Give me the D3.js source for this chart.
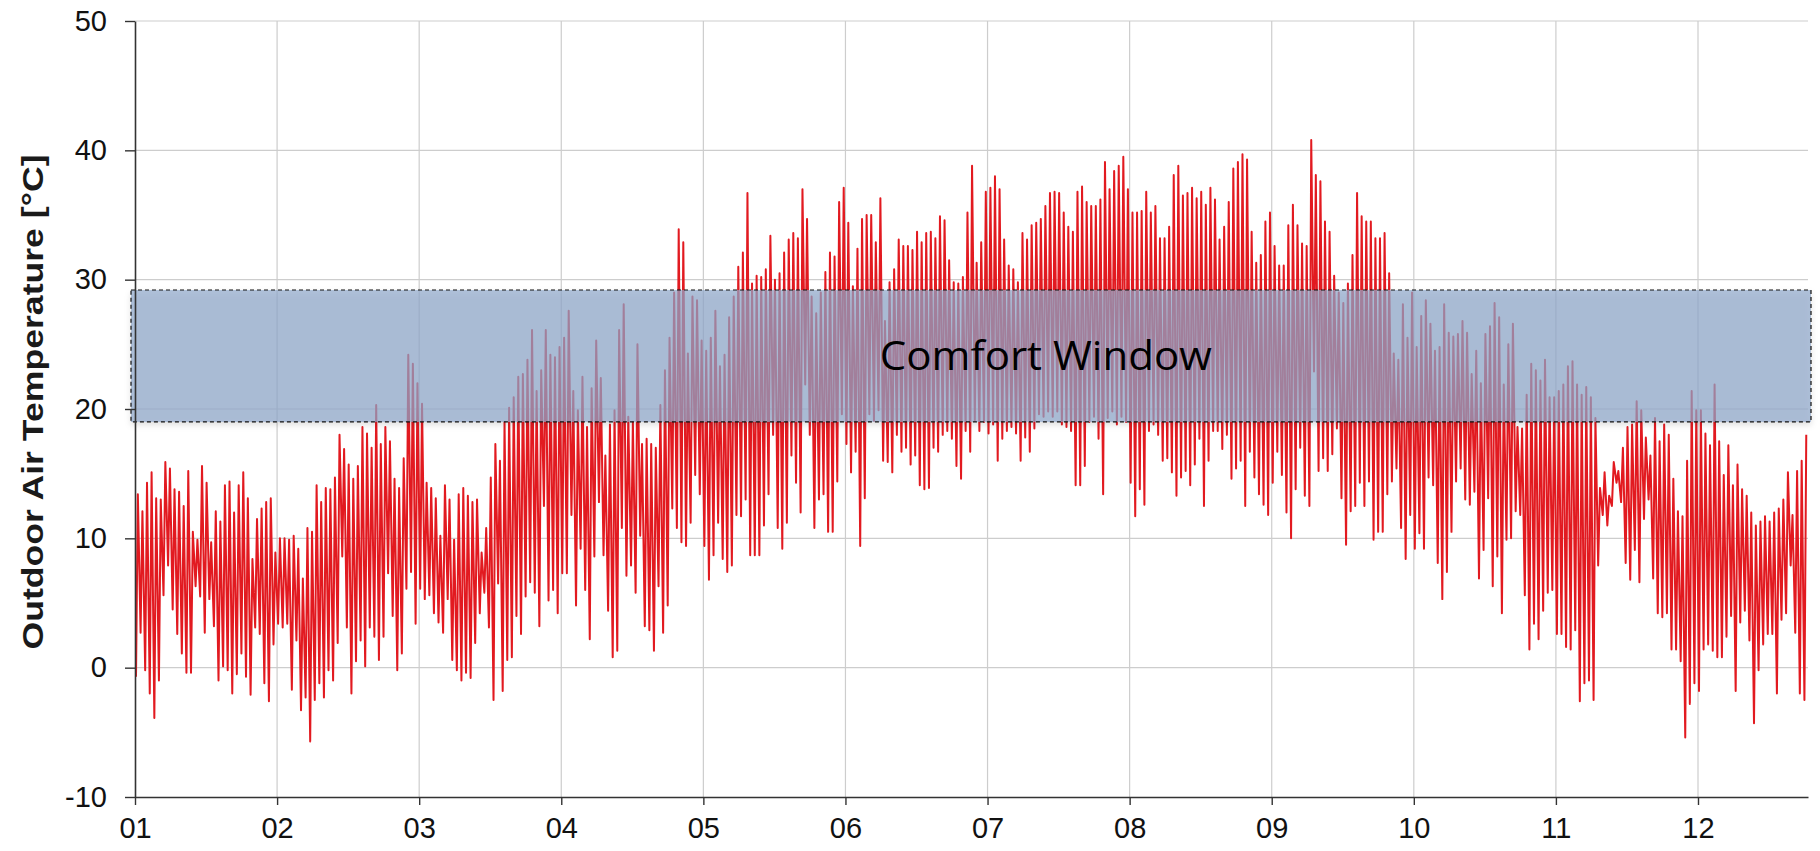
<!DOCTYPE html>
<html>
<head>
<meta charset="utf-8">
<script src="https://cdn.jsdelivr.net/npm/d3@7/dist/d3.min.js"></script>
<style>
  body { margin: 0; background: #fff; }
  svg { display: block; }
</style>
</head>
<body>
<svg id="chart" width="1820" height="851"></svg>
<script>
// month ticks (one every 31 days on the day axis)
var monthLabels = ["01","02","03","04","05","06","07","08","09","10","11","12"];
var monthTickDays = [0,31,62,93,124,155,186,217,248,279,310,341];
var yTicks = [-10,0,10,20,30,40,50];

// comfort window bounds (degC)
var comfortLow = 19.0;
var comfortHigh = 29.2;
var comfortLabel = "Comfort Window";

// daily maximum outdoor temperature (day 0..364)
var dailyMax = [
 13.4,12.1,14.3,15.1,13.1,13.0,15.9,15.4,13.8,13.6,12.5,15.2,10.5,9.9,15.6,14.3,9.7,12.1,11.3,14.1,14.4,12.0,14.1,15.1,13.1,8.4,11.5,12.3,12.8,13.1,8.9,10.0,10.0,
 9.9,10.2,9.2,6.9,10.8,10.5,14.1,12.8,13.9,13.8,14.7,18.0,16.9,15.7,14.6,15.6,18.6,18.1,17.0,20.3,17.3,18.6,17.5,14.6,13.9,16.2,24.2,23.5,22.0,20.4,14.3,13.9,13.1,10.2,14.1,
 13.0,9.9,13.4,13.9,13.3,12.8,13.0,8.9,10.8,14.7,17.3,16.0,19.0,20.1,20.9,22.5,22.7,23.8,26.1,21.4,23.0,26.1,24.2,24.0,24.8,25.5,27.6,21.4,19.9,22.5,18.6,21.6,25.3,22.4,
 16.4,18.8,19.9,26.1,28.1,19.4,19.0,25.0,17.3,17.7,17.3,17.0,20.3,23.0,25.5,29.0,33.9,32.9,24.3,28.7,28.4,25.3,24.5,25.5,27.6,23.3,24.2,27.1,28.7,31.0,32.1,36.7,29.7,30.3,
 30.2,30.8,33.4,30.0,30.5,32.1,33.1,33.6,33.2,37.0,34.7,28.7,27.4,29.0,30.6,32.1,31.8,36.0,37.1,34.4,29.5,32.4,34.7,35.0,35.0,32.9,36.3,26.8,29.8,30.8,33.1,32.6,32.6,32.3,
 33.7,32.9,33.6,33.7,33.2,34.9,34.6,31.5,29.8,29.7,30.2,35.2,38.8,31.3,32.9,36.8,37.1,38.0,37.0,33.1,31.1,30.8,29.8,33.6,33.1,34.2,34.4,34.7,35.7,36.7,36.8,36.7,35.2,
 34.1,33.7,36.8,37.2,36.0,35.7,35.7,36.2,39.1,37.0,38.4,38.8,39.5,37.0,35.2,35.2,35.3,36.8,35.2,35.7,33.2,33.2,34.1,38.1,38.8,36.5,36.7,37.1,36.3,36.8,35.8,37.1,36.2,33.1,
 34.1,36.0,38.6,39.1,39.7,39.3,33.7,31.3,31.9,34.5,35.2,32.6,31.1,31.1,34.2,35.8,34.2,32.8,32.6,40.8,38.1,37.6,34.5,33.7,30.3,29.0,28.2,29.7,31.9,36.7,34.9,34.5,34.5,33.2,
 33.2,33.6,30.5,24.3,23.8,28.1,25.5,29.0,24.8,27.2,28.4,26.6,24.5,24.8,28.1,25.9,25.6,25.8,26.8,25.9,22.7,24.5,22.0,25.8,26.4,28.2,27.1,21.9,25.0,26.6,18.6,18.5,21.1,23.5,
 23.0,22.2,23.8,20.9,20.9,21.4,21.9,23.3,23.7,21.9,21.1,21.7,20.9,19.3,13.9,15.1,13.3,15.9,15.2,17.0,18.6,18.8,20.6,19.9,17.8,16.4,19.3,17.5,18.8,18.0,14.6,12.1,11.7,
 16.0,21.4,19.9,19.9,18.1,17.2,21.9,17.5,14.9,17.2,14.1,15.7,13.8,13.3,12.0,11.0,11.3,11.7,11.3,12.0,12.3,13.0,15.1,11.8,15.2,16.0,18.0
];

// daily minimum outdoor temperature (day 0..364)
var dailyMin = [
 -0.7,2.7,-0.2,-2.0,-3.9,-1.0,5.6,7.9,4.5,2.6,1.1,-0.4,-0.4,6.3,5.5,2.7,5.3,3.2,-1.0,0.1,-0.2,-2.0,-0.5,1.1,-0.7,-2.1,3.1,2.6,-1.2,-2.6,1.8,3.4,3.1,
 3.4,-1.7,2.1,-3.3,-2.3,-5.7,-2.5,-1.2,-2.3,-0.2,-1.0,1.9,8.6,3.1,-2.0,0.5,2.1,0.1,3.1,2.4,0.6,2.4,7.3,4.0,-0.2,1.1,6.1,7.4,3.4,6.1,5.3,5.6,4.2,3.5,2.7,
 5.3,0.6,-0.2,-1.0,-0.4,-0.8,1.9,4.2,5.8,3.1,-2.5,6.5,-1.8,0.6,0.8,4.0,2.6,5.5,6.6,5.8,3.2,12.5,5.2,6.0,4.2,7.3,7.3,11.8,4.8,9.2,6.0,2.2,8.6,12.8,
 8.7,4.4,0.8,1.3,10.8,7.1,7.9,5.8,10.2,3.2,2.9,1.3,6.3,2.7,4.8,12.3,10.8,9.7,9.4,11.2,14.9,13.4,9.4,6.8,8.7,11.2,8.4,7.4,7.9,11.8,11.7,13.0,8.7,8.7,
 8.7,11.0,13.4,18.0,10.8,9.2,11.2,16.4,14.3,12.0,21.9,18.0,10.8,13.0,13.4,10.5,10.5,14.4,19.6,17.3,15.1,16.7,9.4,13.1,19.6,19.1,19.9,16.0,15.9,15.1,18.0,16.7,17.0,15.7,
 16.4,14.1,13.8,13.9,17.0,16.7,18.0,18.3,17.7,15.6,14.6,18.3,16.7,19.1,18.3,19.0,18.1,18.8,16.0,17.7,18.3,18.6,18.1,16.0,17.8,16.7,18.5,19.6,19.4,19.8,19.4,19.8,18.8,
 18.6,18.3,14.1,14.1,15.6,19.0,19.4,17.7,13.4,19.3,19.8,18.8,19.4,19.0,14.3,11.7,13.8,12.6,18.3,18.8,18.0,16.0,16.2,15.1,13.3,14.7,15.2,14.1,15.7,17.7,12.5,16.0,18.3,18.3,
 16.9,18.0,14.6,15.4,16.0,12.5,16.7,14.7,13.4,12.6,11.8,14.3,16.7,14.9,12.0,10.0,13.8,17.0,13.3,12.5,22.9,15.2,16.2,15.2,16.5,18.5,13.1,9.5,12.1,12.5,14.3,12.5,14.4,9.9,
 10.5,10.5,13.4,14.4,15.4,10.8,8.4,11.8,9.2,10.4,9.2,14.7,14.1,8.1,5.3,7.4,10.5,14.4,15.4,13.0,12.6,13.6,6.9,9.1,13.1,6.3,8.6,4.2,9.9,10.0,12.1,11.8,5.6,1.4,
 3.4,2.2,4.4,5.8,6.0,2.6,2.6,1.6,1.4,2.9,-2.6,-1.2,-1.0,-2.5,7.9,11.8,11.0,12.5,14.3,12.8,8.1,6.8,9.1,6.6,11.5,13.0,6.9,4.2,3.9,4.2,1.4,1.4,0.5,
 -5.4,-2.8,-1.2,-1.8,1.4,1.8,1.3,0.8,0.8,2.4,4.0,-1.8,3.5,4.4,2.1,-4.3,-0.2,1.8,2.6,2.6,-2.0,3.7,4.2,7.9,2.7,-2.0,-2.5
];

var svg = d3.select("#chart");

var x = d3.scaleLinear()
          .domain([0, 365])
          .range([135, 1808]);

var y = d3.scaleLinear()
          .domain([-10, 50])
          .range([797, 21]);

// min in the early morning, max in the afternoon
var points = [];
for (var i = 0; i < dailyMax.length; i++) {
  points.push({ t: i + 0.22, v: dailyMin[i] });
  points.push({ t: i + 0.62, v: dailyMax[i] });
}

// grid
svg.append("g")
   .selectAll("line")
   .data(yTicks.filter(function(d){ return d > -10; }))
   .enter().append("line")
   .attr("x1", x(0)).attr("x2", x(365))
   .attr("y1", function(d){ return y(d); })
   .attr("y2", function(d){ return y(d); })
   .attr("stroke", "#cdcdcd").attr("stroke-width", 1.2);

svg.append("g")
   .selectAll("line")
   .data(monthTickDays.slice(1))
   .enter().append("line")
   .attr("x1", function(d){ return x(d); })
   .attr("x2", function(d){ return x(d); })
   .attr("y1", y(50)).attr("y2", y(-10))
   .attr("stroke", "#cdcdcd").attr("stroke-width", 1.2);

// temperature line
var line = d3.line()
             .x(function(d){ return x(d.t); })
             .y(function(d){ return y(d.v); });

svg.append("path")
   .datum(points)
   .attr("fill", "none")
   .attr("stroke", "#e21a20")
   .attr("stroke-width", 2)
   .attr("stroke-linejoin", "round")
   .attr("d", line);

// comfort window band
var defs = svg.append("defs");
var shadow = defs.append("filter").attr("id", "shadow")
                 .attr("x", "-5%").attr("y", "-20%").attr("width", "110%").attr("height", "150%");
shadow.append("feDropShadow")
      .attr("dx", 0).attr("dy", 3).attr("stdDeviation", 3)
      .attr("flood-color", "#000").attr("flood-opacity", 0.18);

svg.append("rect")
   .attr("x", x(0) - 4)
   .attr("y", y(comfortHigh))
   .attr("width", x(365) - x(0) + 7)
   .attr("height", y(comfortLow) - y(comfortHigh))
   .attr("fill", "#8ea6ca")
   .attr("fill-opacity", 0.7)
   .attr("filter", "url(#shadow)");

svg.append("rect")
   .attr("x", x(0) - 4)
   .attr("y", y(comfortHigh))
   .attr("width", x(365) - x(0) + 7)
   .attr("height", y(comfortLow) - y(comfortHigh))
   .attr("fill", "none")
   .attr("stroke", "#111")
   .attr("stroke-width", 1.2)
   .attr("stroke-dasharray", "4,3");

svg.append("text")
   .attr("x", x(162.5))
   .attr("y", y((comfortLow + comfortHigh) / 2) + 14)
   .attr("font-family", "'Open Sans', 'Noto Sans', sans-serif")
   .attr("font-size", 40)
   .attr("textLength", 332)
   .attr("lengthAdjust", "spacingAndGlyphs")
   .attr("fill", "#000")
   .text(comfortLabel);

// axes
var yAxis = svg.append("g")
   .attr("transform", "translate(" + x(0) + ",0)")
   .call(d3.axisLeft(y).tickValues(yTicks)
           .tickFormat(function(d){ return String(d); })
           .tickSize(10).tickSizeOuter(0).tickPadding(18));

var xAxis = svg.append("g")
   .attr("transform", "translate(0," + y(-10) + ")")
   .call(d3.axisBottom(x).tickValues(monthTickDays)
           .tickFormat(function(d, i){ return monthLabels[i]; })
           .tickSize(8).tickSizeOuter(0).tickPadding(12));

[yAxis, xAxis].forEach(function(g){
  g.select(".domain").attr("stroke", "#333").attr("stroke-width", 1.6);
  g.selectAll(".tick line").attr("stroke", "#333").attr("stroke-width", 1.4);
  g.selectAll(".tick text")
   .attr("font-family", "'Liberation Sans', Arial, sans-serif")
   .attr("font-size", 29)
   .attr("fill", "#111");
});

// y axis title
svg.append("text")
   .attr("transform", "translate(43,402) rotate(-90)")
   .attr("text-anchor", "middle")
   .attr("font-family", "'Liberation Sans Narrow', 'Liberation Sans', Arial, sans-serif")
   .attr("font-weight", "bold")
   .attr("font-size", 29)
   .attr("textLength", 495)
   .attr("lengthAdjust", "spacingAndGlyphs")
   .attr("fill", "#1a1a1a")
   .text("Outdoor Air Temperature  [°C]");
</script>
</body>
</html>
